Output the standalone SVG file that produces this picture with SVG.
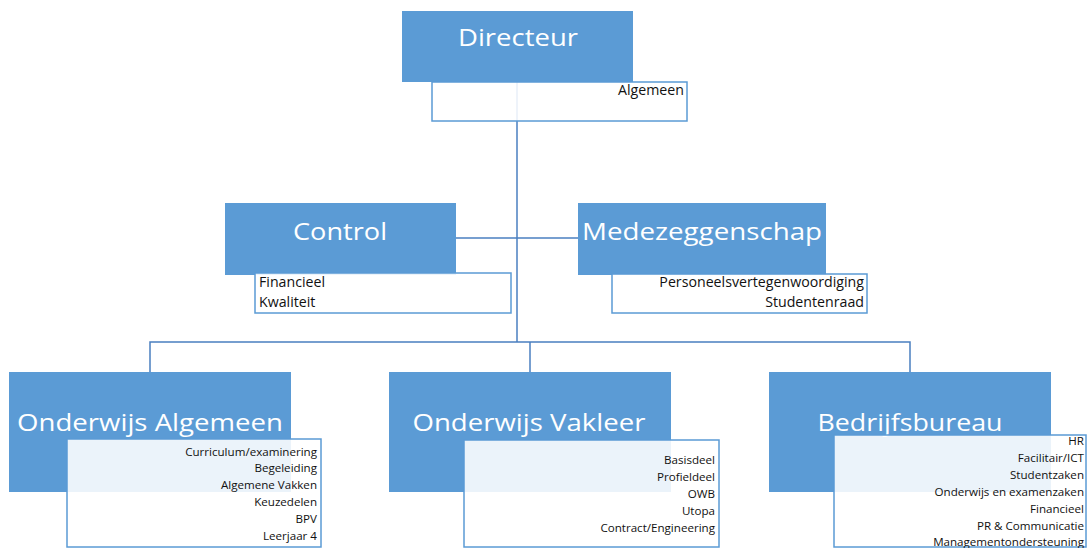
<svg xmlns="http://www.w3.org/2000/svg" width="1089" height="548" viewBox="0 0 1089 548">
<style>
.box{fill:#5b9bd5;}
.sub{fill:#ffffff;fill-opacity:0.88;stroke:#5b9bd5;stroke-width:1.5;}
.h{font-family:"Open Sans","Liberation Sans",sans-serif;font-size:23px;fill:#ffffff;text-anchor:middle;}
.t{font-family:"Open Sans","Liberation Sans",sans-serif;font-size:14.2px;fill:#111111;}
.s{font-family:"Open Sans","Liberation Sans",sans-serif;font-size:11.6px;fill:#111111;text-anchor:end;}
.r{text-anchor:end;}
.c{fill:none;stroke:#4a7fc0;stroke-width:1.5;}
</style>
<rect width="1089" height="548" fill="#ffffff"/>
<g id="connectors">
<path class="c" d="M517,82 V342"/>
<path class="c" d="M456,238 H578"/>
<path class="c" d="M150,372 V342 H910 V372"/>
<path class="c" d="M530,342 V372"/>
</g>
<g id="directeur">
<rect class="box" x="402" y="11" width="231" height="71"/>
<text class="h" x="518" y="46" textLength="120" lengthAdjust="spacingAndGlyphs">Directeur</text>
<rect class="sub" x="432" y="82" width="255" height="39"/>
<text class="t r" x="684" y="95">Algemeen</text>
</g>
<g id="control">
<rect class="box" x="225" y="203" width="231" height="72"/>
<text class="h" x="340" y="240" textLength="94" lengthAdjust="spacingAndGlyphs">Control</text>
<rect class="sub" x="255" y="273" width="256" height="40"/>
<text class="t" x="259" y="287">Financieel</text>
<text class="t" x="259" y="307">Kwaliteit</text>
</g>
<g id="medezeggenschap">
<rect class="box" x="578" y="203" width="248" height="72"/>
<text class="h" x="702" y="240" textLength="240" lengthAdjust="spacingAndGlyphs">Medezeggenschap</text>
<rect class="sub" x="612" y="274" width="255" height="39"/>
<text class="t r" x="864" y="287">Personeelsvertegenwoordiging</text>
<text class="t r" x="864" y="307">Studentenraad</text>
</g>
<g id="onderwijs-algemeen">
<rect class="box" x="9" y="372" width="282" height="120"/>
<text class="h" x="150" y="431" textLength="266" lengthAdjust="spacingAndGlyphs">Onderwijs Algemeen</text>
<rect class="sub" x="67" y="439" width="254" height="108"/>
<text class="s" x="317" y="456">Curriculum/examinering</text>
<text class="s" x="317" y="472">Begeleiding</text>
<text class="s" x="317" y="489">Algemene Vakken</text>
<text class="s" x="317" y="506">Keuzedelen</text>
<text class="s" x="317" y="523">BPV</text>
<text class="s" x="317" y="540">Leerjaar 4</text>
</g>
<g id="onderwijs-vakleer">
<rect class="box" x="389" y="372" width="282" height="120"/>
<text class="h" x="529" y="431" textLength="233" lengthAdjust="spacingAndGlyphs">Onderwijs Vakleer</text>
<rect class="sub" x="464" y="440" width="255" height="107"/>
<text class="s" x="715" y="464">Basisdeel</text>
<text class="s" x="715" y="481">Profieldeel</text>
<text class="s" x="715" y="498">OWB</text>
<text class="s" x="715" y="515">Utopa</text>
<text class="s" x="715" y="532">Contract/Engineering</text>
</g>
<g id="bedrijfsbureau">
<rect class="box" x="769" y="372" width="282" height="120"/>
<text class="h" x="910" y="431" textLength="185" lengthAdjust="spacingAndGlyphs">Bedrijfsbureau</text>
<rect class="sub" x="834" y="435" width="252" height="112"/>
<text class="s" x="1084" y="445">HR</text>
<text class="s" x="1084" y="462">Facilitair/ICT</text>
<text class="s" x="1084" y="479">Studentzaken</text>
<text class="s" x="1084" y="496">Onderwijs en examenzaken</text>
<text class="s" x="1084" y="513">Financieel</text>
<text class="s" x="1084" y="530">PR &amp; Communicatie</text>
<text class="s" x="1084" y="546">Managementondersteuning</text>
</g>
</svg>
